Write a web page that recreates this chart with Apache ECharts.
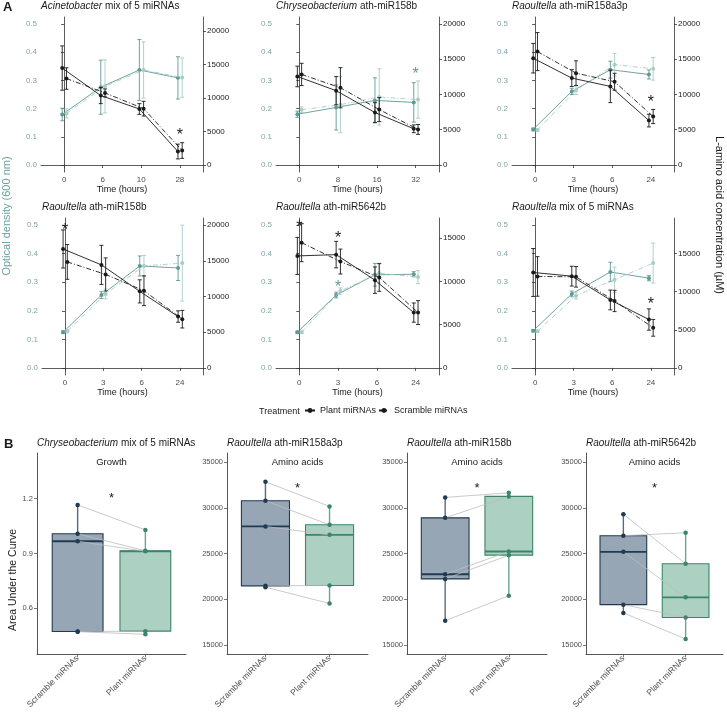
<!DOCTYPE html>
<html>
<head>
<meta charset="utf-8">
<script src="https://cdn.jsdelivr.net/npm/echarts@6/dist/echarts.min.js"></script>
<style>
html, body { margin: 0; padding: 0; background: #fff; }
#chart { width: 727px; height: 712px; }
</style>
</head>
<body>
<div id="chart"></div>
<script>
(function () {
// ---- panel A: growth / amino acid time courses ----
const genusA = ['Acinetobacter', 'Chryseobacterium', 'Raoultella', 'Raoultella', 'Raoultella', 'Raoultella'];
const targetA = ['mix of 5 miRNAs', 'ath-miR158b', 'ath-miR158a3p', 'ath-miR158b', 'ath-miR5642b', 'mix of 5 miRNAs'];
const timeLabels = [
  ['0', '6', '10', '28'],
  ['0', '8', '16', '32'],
  ['0', '3', '6', '24'],
  ['0', '3', '6', '24'],
  ['0', '3', '6', '24'],
  ['0', '3', '6', '24']
];
// secondary axis scale (amino acid units per OD unit)
const aaFactor = [42000, 40000, 40000, 40000, 33000, 37500];
const odTicks = [0, 0.1, 0.2, 0.3, 0.4, 0.5];
const aaTicks = [
  [0, 5000, 10000, 15000, 20000],
  [0, 5000, 10000, 15000, 20000],
  [0, 5000, 10000, 15000, 20000],
  [0, 5000, 10000, 15000, 20000],
  [0, 5000, 10000, 15000],
  [0, 5000, 10000, 15000]
];

const odPlant = [
  [0.179, 0.276, 0.337, 0.309],
  [0.180, 0.204, 0.229, 0.222],
  [0.126, 0.261, 0.338, 0.321],
  [0.125, 0.255, 0.357, 0.350],
  [0.125, 0.255, 0.326, 0.328],
  [0.130, 0.259, 0.336, 0.314]
];
const odPlantErr = [
  [0.022, 0.096, 0.108, 0.075],
  [0.011, 0.080, 0.080, 0.070],
  [0.005, 0.011, 0.030, 0.016],
  [0.005, 0.012, 0.035, 0.044],
  [0.004, 0.010, 0.040, 0.009],
  [0.004, 0.010, 0.034, 0.009]
];
const odScramble = [
  [0.183, 0.279, 0.337, 0.310],
  [0.196, 0.214, 0.241, 0.232],
  [0.124, 0.265, 0.356, 0.341],
  [0.128, 0.259, 0.357, 0.367],
  [0.125, 0.269, 0.332, 0.318],
  [0.128, 0.253, 0.309, 0.367]
];
const odScrambleErr = [
  [0.016, 0.094, 0.100, 0.070],
  [0.010, 0.100, 0.100, 0.066],
  [0.004, 0.015, 0.040, 0.040],
  [0.005, 0.017, 0.037, 0.133],
  [0.004, 0.011, 0.035, 0.023],
  [0.004, 0.012, 0.044, 0.070]
];
const aaPlant = [
  [14440, 10340, 8340, 2000],
  [12560, 10540, 7440, 5130],
  [15150, 12330, 11150, 6300],
  [16660, 14430, 10720, 7190],
  [12940, 13090, 10140, 6390],
  [12530, 12050, 8920, 6350]
];
const aaPlantErr = [
  [3300, 1200, 800, 1100],
  [1460, 2000, 1400, 550],
  [2100, 1200, 2300, 900],
  [2670, 2740, 1620, 800],
  [2140, 1530, 1530, 1110],
  [3150, 1300, 1300, 1400]
];
const aaScramble = [
  [12880, 10730, 8390, 2150],
  [12850, 10960, 7860, 5040],
  [16090, 13030, 11810, 6870],
  [14850, 13090, 10810, 6820],
  [14470, 12290, 10450, 6390],
  [12010, 11960, 8790, 5260]
];
const aaScrambleErr = [
  [1600, 600, 1100, 1170],
  [1580, 2850, 1700, 700],
  [2700, 1750, 1200, 1000],
  [2440, 2320, 2090, 1230],
  [2200, 1440, 1600, 1380],
  [2600, 1350, 1400, 1100]
];
// significance stars (panel, time index, OD position, which series colour)
const starPanel = [0, 1, 2, 3, 4, 4, 4, 5];
const starTime = [3, 3, 3, 0, 0, 1, 1, 3];
const starOd = [0.116, 0.333, 0.234, 0.494, 0.502, 0.464, 0.293, 0.232];
const starTeal = [false, true, false, false, false, false, true, false];

// ---- panel B: area under the curve ----
const genusB = ['Chryseobacterium', 'Raoultella', 'Raoultella', 'Raoultella'];
const targetB = ['mix of 5 miRNAs', 'ath-miR158a3p', 'ath-miR158b', 'ath-miR5642b'];
const noteB = ['Growth', 'Amino acids', 'Amino acids', 'Amino acids'];
const groupsB = ['Scramble miRNAs', 'Plant miRNAs'];
const aucScramble = [
  [1.166, 1.008, 0.967, 0.473, 0.472],
  [32850, 30770, 27960, 21460, 21310],
  [31140, 28900, 22730, 22220, 17640],
  [29300, 26950, 25180, 19400, 18500]
];
const aucPlant = [
  [1.029, 0.915, 0.912, 0.475, 0.458],
  [30150, 28140, 27040, 21500, 19530],
  [31640, 31250, 25220, 24820, 20380],
  [23880, 27270, 20200, 18000, 15640]
];
const noteY = [1.398, 35000, 35000, 35000];
const starY = [1.216, 32370, 32440, 32400];
const rangeB = [[0.35, 1.45], [14000, 36000], [14000, 36000], [14000, 36000]];
const ticksB = [
  [0.6, 0.9, 1.2],
  [15000, 20000, 25000, 30000, 35000],
  [15000, 20000, 25000, 30000, 35000],
  [15000, 20000, 25000, 30000, 35000]
];

const FONT = '"Liberation Sans", Arial, sans-serif';
const INK = '#1a1a1a';
const AXIS = '#333333';
const TICK_TXT = '#4d4d4d';
const TEAL = '#5f9995';
const TEAL_LIGHT = '#a9ccc7';
const TEAL_TXT = '#7fa7a5';
const DASHDOT = [5, 2, 1, 2];
const DODGE_P = -0.05, DODGE_S = 0.06;

const gridA = [
  { left: 41, top: 17, width: 162, height: 155 },
  { left: 276, top: 17, width: 163, height: 155 },
  { left: 512, top: 17, width: 162, height: 155 },
  { left: 42, top: 218, width: 161, height: 157 },
  { left: 276, top: 218, width: 163, height: 157 },
  { left: 512, top: 218, width: 162, height: 157 }
];
const gridB = [
  { left: 37, top: 453, width: 149, height: 201 },
  { left: 227, top: 453, width: 141, height: 201 },
  { left: 407, top: 453, width: 140, height: 201 },
  { left: 586, top: 453, width: 137, height: 201 }
];
const boxStyle = [
  { fill: 'rgba(38, 70, 98, 0.48)', line: '#1f3a52' },
  { fill: 'rgba(72, 150, 118, 0.45)', line: '#3b866a' }
];

function errorBars(color) {
  return function (params, api) {
    const x = api.value(0);
    const a = api.coord([x, api.value(1)]);
    const b = api.coord([x, api.value(2)]);
    const w = 2;
    const st = { stroke: color, lineWidth: 0.9 };
    return {
      type: 'group',
      children: [
        { type: 'line', shape: { x1: a[0], y1: a[1], x2: b[0], y2: b[1] }, style: st },
        { type: 'line', shape: { x1: a[0] - w, y1: a[1], x2: a[0] + w, y2: a[1] }, style: st },
        { type: 'line', shape: { x1: b[0] - w, y1: b[1], x2: b[0] + w, y2: b[1] }, style: st }
      ]
    };
  };
}

function textAt(text, color, size) {
  return function (params, api) {
    const p = api.coord([api.value(0), api.value(1)]);
    return {
      type: 'text', x: p[0], y: p[1],
      style: { text: text, fill: color, font: size + 'px ' + FONT, textAlign: 'center', textVerticalAlign: 'middle' }
    };
  };
}

function quantile(sorted, q) {
  const pos = (sorted.length - 1) * q;
  const lo = Math.floor(pos), hi = Math.ceil(pos);
  return sorted[lo] + (sorted[hi] - sorted[lo]) * (pos - lo);
}

function boxStats(values, x) {
  const s = values.slice().sort((a, b) => a - b);
  return [x, s[0], quantile(s, 0.25), quantile(s, 0.5), quantile(s, 0.75), s[s.length - 1]];
}

function renderBox(params, api) {
  const x = api.value(0);
  const hw = 0.375;
  const col = boxStyle[params.dataIndex];
  const tl = api.coord([x - hw, api.value(4)]);
  const br = api.coord([x + hw, api.value(2)]);
  const lo = api.coord([x, api.value(1)]);
  const hi = api.coord([x, api.value(5)]);
  const md = api.coord([x, api.value(3)]);
  return {
    type: 'group',
    children: [
      { type: 'line', shape: { x1: hi[0], y1: hi[1], x2: hi[0], y2: tl[1] }, style: { stroke: col.line, lineWidth: 1.4, opacity: 0.75 } },
      { type: 'line', shape: { x1: lo[0], y1: lo[1], x2: lo[0], y2: br[1] }, style: { stroke: col.line, lineWidth: 1.4, opacity: 0.75 } },
      { type: 'rect', shape: { x: tl[0], y: tl[1], width: br[0] - tl[0], height: br[1] - tl[1] }, style: { fill: col.fill, stroke: col.line, lineWidth: 1.1 } },
      { type: 'line', shape: { x1: tl[0], y1: md[1], x2: br[0], y2: md[1] }, style: { stroke: col.line, lineWidth: 1.8 } }
    ]
  };
}

const grid = [], xAxis = [], yAxis = [], series = [], title = [];

function baseAxisLine() {
  return { show: true, lineStyle: { color: AXIS, width: 0.8 } };
}

timeLabels.forEach(function (labels, i) {
  const f = aaFactor[i];
  grid.push(Object.assign({ outerBoundsMode: 'none', containLabel: false }, gridA[i]));
  xAxis.push({
    type: 'value', gridIndex: i, min: -0.6, max: 3.6,
    name: 'Time (hours)', nameLocation: 'middle', nameGap: 13,
    nameTextStyle: { fontSize: 9, color: INK, fontFamily: FONT },
    axisLine: baseAxisLine(),
    axisTick: { show: true, length: 3, lineStyle: { color: AXIS, width: 0.8 }, customValues: [0, 1, 2, 3] },
    axisLabel: { customValues: [0, 1, 2, 3], formatter: v => labels[Math.round(v)], fontSize: 8, color: TICK_TXT, margin: 4, fontFamily: FONT },
    splitLine: { show: false }
  });
  yAxis.push({
    type: 'value', gridIndex: i, position: 'left', min: -0.025, max: 0.525,
    axisLine: baseAxisLine(),
    axisTick: { show: true, length: 3, lineStyle: { color: AXIS, width: 0.8 }, customValues: odTicks },
    axisLabel: { customValues: odTicks, formatter: v => v.toFixed(1), fontSize: 8, color: TEAL_TXT, margin: 4, fontFamily: FONT },
    splitLine: { show: false }
  });
  yAxis.push({
    type: 'value', gridIndex: i, position: 'right', min: -0.025 * f, max: 0.525 * f,
    axisLine: baseAxisLine(),
    axisTick: { show: true, length: 3, lineStyle: { color: AXIS, width: 0.8 }, customValues: aaTicks[i] },
    axisLabel: { customValues: aaTicks[i], formatter: v => String(Math.round(v)), fontSize: 8, color: INK, margin: 4, fontFamily: FONT },
    splitLine: { show: false }
  });

  const row = i < 3 ? 0 : 1;
  title.push({
    left: gridA[i].left, top: row === 0 ? 1 : 202, padding: 0,
    text: '{i|' + genusA[i] + '} ' + targetA[i],
    textStyle: {
      fontSize: 10, fontWeight: 'normal', color: INK, fontFamily: FONT,
      rich: { i: { fontStyle: 'italic', fontSize: 10, color: INK, fontFamily: FONT } }
    }
  });

  const odY = 2 * i, aaY = 2 * i + 1;
  const sets = [
    { v: odPlant[i], e: odPlantErr[i], d: DODGE_P, y: odY, c: TEAL, dash: 'solid' },
    { v: odScramble[i], e: odScrambleErr[i], d: DODGE_S, y: odY, c: TEAL_LIGHT, dash: DASHDOT },
    { v: aaPlant[i], e: aaPlantErr[i], d: DODGE_P, y: aaY, c: INK, dash: 'solid' },
    { v: aaScramble[i], e: aaScrambleErr[i], d: DODGE_S, y: aaY, c: INK, dash: DASHDOT }
  ];
  sets.forEach(function (s, k) {
    series.push({
      type: 'custom', xAxisIndex: i, yAxisIndex: s.y, silent: true, z: 2 + k,
      renderItem: errorBars(s.c),
      data: s.v.map((v, t) => [t + s.d, v - s.e[t], v + s.e[t]])
    });
    series.push({
      type: 'line', xAxisIndex: i, yAxisIndex: s.y, silent: true, z: 2 + k,
      data: s.v.map((v, t) => [t + s.d, v]),
      symbol: 'circle', symbolSize: 4,
      itemStyle: { color: s.c },
      lineStyle: { color: s.c, width: 0.9, type: s.dash }
    });
  });
});

// stars on panel A
starPanel.forEach(function (p, k) {
  series.push({
    type: 'custom', xAxisIndex: p, yAxisIndex: 2 * p, silent: true, z: 10,
    renderItem: textAt('*', starTeal[k] ? TEAL : INK, 16),
    data: [[starTime[k], starOd[k] - 0.012]]
  });
});

// panel B
genusB.forEach(function (g, j) {
  const gi = 6 + j;
  const yi = 12 + j;
  grid.push(Object.assign({ outerBoundsMode: 'none', containLabel: false }, gridB[j]));
  xAxis.push({
    type: 'value', gridIndex: gi, min: 0.4, max: 2.6,
    axisLine: { show: true, lineStyle: { color: '#555', width: 1 } },
    axisTick: { show: true, length: 3, lineStyle: { color: '#555', width: 0.8 }, customValues: [1, 2] },
    axisLabel: { customValues: [1, 2], formatter: v => groupsB[Math.round(v) - 1], rotate: 45, fontSize: 8.5, color: TICK_TXT, margin: 3, fontFamily: FONT },
    splitLine: { show: false }
  });
  yAxis.push({
    type: 'value', gridIndex: gi, position: 'left', min: rangeB[j][0], max: rangeB[j][1],
    axisLine: { show: true, lineStyle: { color: '#555', width: 1 } },
    axisTick: { show: true, length: 3, lineStyle: { color: '#555', width: 0.8 }, customValues: ticksB[j] },
    axisLabel: { customValues: ticksB[j], formatter: v => (j === 0 ? v.toFixed(1) : String(Math.round(v))), fontSize: 7.5, color: TICK_TXT, margin: 4, fontFamily: FONT },
    splitLine: { show: false }
  });
  title.push({
    left: gridB[j].left, top: 438, padding: 0,
    text: '{i|' + g + '} ' + targetB[j],
    textStyle: {
      fontSize: 10, fontWeight: 'normal', color: INK, fontFamily: FONT,
      rich: { i: { fontStyle: 'italic', fontSize: 10, color: INK, fontFamily: FONT } }
    }
  });
  series.push({
    type: 'custom', xAxisIndex: gi, yAxisIndex: yi, silent: true, z: 2,
    renderItem: renderBox,
    data: [boxStats(aucScramble[j], 1), boxStats(aucPlant[j], 2)]
  });
  series.push({
    type: 'custom', xAxisIndex: gi, yAxisIndex: yi, silent: true, z: 3,
    renderItem: function (params, api) {
      const a = api.coord([1, api.value(0)]);
      const b = api.coord([2, api.value(1)]);
      return { type: 'line', shape: { x1: a[0], y1: a[1], x2: b[0], y2: b[1] }, style: { stroke: '#bdbdbd', lineWidth: 0.8 } };
    },
    data: aucScramble[j].map((v, k) => [v, aucPlant[j][k]])
  });
  [aucScramble[j], aucPlant[j]].forEach(function (vals, g2) {
    series.push({
      type: 'scatter', xAxisIndex: gi, yAxisIndex: yi, silent: true, z: 4,
      symbolSize: 4.5, itemStyle: { color: boxStyle[g2].line, opacity: 1 },
      data: vals.map(v => [g2 + 1, v])
    });
  });
  series.push({
    type: 'custom', xAxisIndex: gi, yAxisIndex: yi, silent: true, z: 5,
    renderItem: textAt(noteB[j], INK, 9.5),
    data: [[1.5, noteY[j]]]
  });
  series.push({
    type: 'custom', xAxisIndex: gi, yAxisIndex: yi, silent: true, z: 5,
    renderItem: textAt('*', INK, 13),
    data: [[1.5, starY[j] - (rangeB[j][1] - rangeB[j][0]) * 0.012]]
  });
});

// legend-only series
series.push({
  name: 'Plant miRNAs', type: 'line', xAxisIndex: 0, yAxisIndex: 0, data: [],
  symbol: 'circle', symbolSize: 3, itemStyle: { color: INK }, lineStyle: { color: INK, width: 1, type: 'solid' }
});
series.push({
  name: 'Scramble miRNAs', type: 'line', xAxisIndex: 0, yAxisIndex: 0, data: [],
  symbol: 'circle', symbolSize: 3, itemStyle: { color: INK }, lineStyle: { color: INK, width: 1, type: DASHDOT }
});

title.push({ left: 3, top: 1, padding: 0, text: 'A', textStyle: { fontSize: 13, fontWeight: 'bold', color: INK, fontFamily: FONT } });
title.push({ left: 4, top: 438, padding: 0, text: 'B', textStyle: { fontSize: 13, fontWeight: 'bold', color: INK, fontFamily: FONT } });
title.push({ left: 259, top: 407, padding: 0, text: 'Treatment', textStyle: { fontSize: 9, fontWeight: 'normal', color: INK, fontFamily: FONT } });

const option = {
  animation: false,
  backgroundColor: '#ffffff',
  title: title,
  legend: {
    data: ['Plant miRNAs', 'Scramble miRNAs'],
    left: 304, top: 406, padding: 0,
    itemWidth: 10, itemHeight: 6, itemGap: 2,
    textStyle: { fontSize: 9, color: INK, fontFamily: FONT },
    selectedMode: false
  },
  grid: grid,
  xAxis: xAxis,
  yAxis: yAxis,
  series: series,
  graphic: [
    {
      type: 'text', x: 7, y: 216, rotation: Math.PI / 2, silent: true,
      style: { text: 'Optical density (600 nm)', font: '11px ' + FONT, fill: '#6aa29e', textAlign: 'center', textVerticalAlign: 'middle' }
    },
    {
      type: 'text', x: 719, y: 215, rotation: -Math.PI / 2, silent: true,
      style: { text: 'L-amino acid concentration (\u00b5M)', font: '11px ' + FONT, fill: INK, textAlign: 'center', textVerticalAlign: 'middle' }
    },
    {
      type: 'text', x: 13, y: 580, rotation: Math.PI / 2, silent: true,
      style: { text: 'Area Under the Curve', font: '10.5px ' + FONT, fill: INK, textAlign: 'center', textVerticalAlign: 'middle' }
    }
  ]
};

const chart = echarts.init(document.getElementById('chart'));
chart.setOption(option);
window.addEventListener('resize', () => chart.resize());
})();
</script>
</body>
</html>
